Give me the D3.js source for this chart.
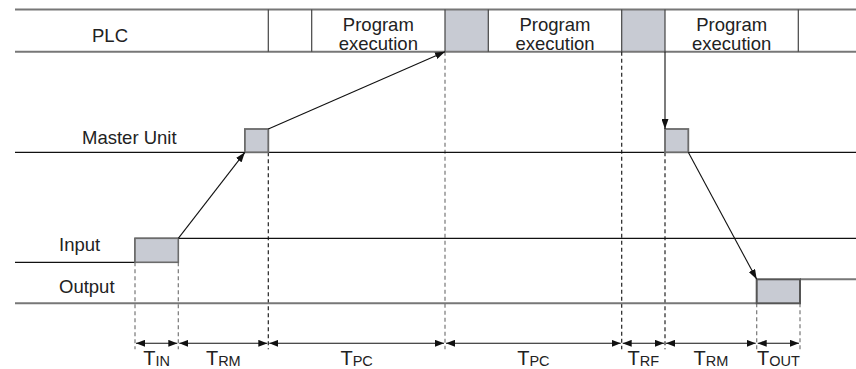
<!DOCTYPE html>
<html>
<head>
<meta charset="utf-8">
<script src="https://cdn.jsdelivr.net/npm/d3@7"></script>
<style>
  body { margin: 0; background: #fff; }
  svg { display: block; font-family: "Liberation Sans", Arial, Helvetica, sans-serif; }
</style>
</head>
<body>
<svg></svg>
<script>
var width = 856;
var height = 369;

// time axis in arbitrary units (1 unit ~ one tenth of the drawing)
var timeDomain = [0, 84.1];

// boundaries of the response-time segments
var segBounds = [12.0, 16.33, 25.33, 43.0, 60.67, 65.0, 74.17, 78.5];
var segLabels = ["IN", "RM", "PC", "PC", "RF", "RM", "OUT"];
var dashDark = [false, false, true, false, true, true, false, false];

// PLC cycle row
var plcLines = [25.33, 29.67, 43.0, 47.33, 60.67, 65.0, 78.33];
var plcRefresh = [[43.0, 47.33], [60.67, 65.0]];
var plcExec = [[29.67, 43.0], [47.33, 60.67], [65.0, 78.33]];

// pulses
var masterPulses = [[22.99, 25.33], [65.0, 67.33]];
var inputPulse = [12.0, 16.33];
var outputPulse = [74.17, 78.5];

var rowLabels = ["PLC", "Master Unit", "Input", "Output"];

var x = d3.scaleLinear().domain(timeDomain).range([15, width]);

// vertical layout
var Y = {
  plcTop: 9.5, plcBot: 51.7,
  mTop: 129, mLine: 152.3,
  inHi: 238.3, inLo: 262.3,
  outHi: 279.3, outLo: 303.3,
  dim: 343.3
};

var svg = d3.select("svg")
    .attr("width", width)
    .attr("height", height);

var defs = svg.append("defs");
function marker(id, len, w) {
  defs.append("marker")
      .attr("id", id)
      .attr("viewBox", "0 0 " + len + " " + w)
      .attr("refX", len).attr("refY", w / 2)
      .attr("markerWidth", len).attr("markerHeight", w)
      .attr("markerUnits", "userSpaceOnUse")
      .attr("orient", "auto-start-reverse")
    .append("path")
      .attr("d", "M0,0L" + len + "," + (w / 2) + "L0," + w + "Z")
      .attr("fill", "#111");
}
marker("arr", 10, 7);
marker("dim", 9, 7);

var boxFill = "#c8cbd3";
var boxStroke = "#6b6b6b";
var lineGray = "#777";

// ---- PLC row ----
var plc = svg.append("g");
plc.selectAll("rect.ref")
  .data(plcRefresh)
  .enter().append("rect")
    .attr("x", function(d) { return x(d[0]); })
    .attr("y", Y.plcTop)
    .attr("width", function(d) { return x(d[1]) - x(d[0]); })
    .attr("height", Y.plcBot - Y.plcTop)
    .attr("fill", boxFill);

plc.selectAll("line.h")
  .data([Y.plcTop, Y.plcBot])
  .enter().append("line")
    .attr("x1", x(0)).attr("x2", width)
    .attr("y1", function(d) { return d; }).attr("y2", function(d) { return d; })
    .attr("stroke", lineGray).attr("stroke-width", 2);

plc.selectAll("line.v")
  .data(plcLines)
  .enter().append("line")
    .attr("x1", function(d) { return x(d); }).attr("x2", function(d) { return x(d); })
    .attr("y1", Y.plcTop).attr("y2", Y.plcBot)
    .attr("stroke", "#444").attr("stroke-width", 1.2);

var exec = plc.selectAll("text.exec")
  .data(plcExec)
  .enter().append("text")
    .attr("text-anchor", "middle")
    .attr("font-size", 18.5)
    .attr("fill", "#222");
exec.append("tspan")
    .attr("x", function(d) { return (x(d[0]) + x(d[1])) / 2; })
    .attr("y", 30.5)
    .text("Program");
exec.append("tspan")
    .attr("x", function(d) { return (x(d[0]) + x(d[1])) / 2; })
    .attr("y", 49.5)
    .text("execution");

// ---- row labels ----
var labelPos = [[110, 41.7, "middle"], [82, 143.5, "start"], [59, 251, "start"], [59, 293, "start"]];
svg.selectAll("text.row")
  .data(rowLabels)
  .enter().append("text")
    .attr("x", function(d, i) { return labelPos[i][0]; })
    .attr("y", function(d, i) { return labelPos[i][1]; })
    .attr("text-anchor", function(d, i) { return labelPos[i][2]; })
    .attr("font-size", 18.5)
    .attr("fill", "#222")
    .text(function(d) { return d; });

// ---- dashed verticals ----
var dashTop = [Y.inLo, Y.inLo, Y.mLine, Y.plcBot, Y.plcBot, Y.mLine, Y.outLo, Y.outLo];
svg.selectAll("line.dash")
  .data(segBounds)
  .enter().append("line")
    .attr("x1", function(d) { return x(d); }).attr("x2", function(d) { return x(d); })
    .attr("y1", function(d, i) { return dashTop[i]; })
    .attr("y2", Y.dim + 6)
    .attr("stroke", function(d, i) { return dashDark[i] ? "#222" : "#777"; })
    .attr("stroke-width", 1.2)
    .attr("stroke-dasharray", "4,3");

// ---- Master Unit row ----
svg.append("line")
    .attr("x1", x(0)).attr("x2", width)
    .attr("y1", Y.mLine).attr("y2", Y.mLine)
    .attr("stroke", "#111").attr("stroke-width", 1.2);
svg.selectAll("rect.m")
  .data(masterPulses)
  .enter().append("rect")
    .attr("x", function(d) { return x(d[0]); })
    .attr("y", Y.mTop)
    .attr("width", function(d) { return x(d[1]) - x(d[0]); })
    .attr("height", Y.mLine - Y.mTop)
    .attr("fill", boxFill)
    .attr("stroke", boxStroke).attr("stroke-width", 1.8);

// ---- Input row ----
svg.append("path")
    .attr("d", d3.line()([[x(0), Y.inLo], [x(inputPulse[0]), Y.inLo], [x(inputPulse[0]), Y.inHi], [width, Y.inHi]]))
    .attr("fill", "none").attr("stroke", "#111").attr("stroke-width", 1.2);
svg.append("rect")
    .attr("x", x(inputPulse[0])).attr("y", Y.inHi)
    .attr("width", x(inputPulse[1]) - x(inputPulse[0]))
    .attr("height", Y.inLo - Y.inHi)
    .attr("fill", boxFill)
    .attr("stroke", boxStroke).attr("stroke-width", 1.6);

// ---- Output row ----
svg.append("path")
    .attr("d", d3.line()([[x(0), Y.outLo], [x(outputPulse[0]), Y.outLo]]))
    .attr("fill", "none").attr("stroke", lineGray).attr("stroke-width", 2);
svg.append("path")
    .attr("d", d3.line()([[x(outputPulse[1]), Y.outHi], [width, Y.outHi]]))
    .attr("fill", "none").attr("stroke", lineGray).attr("stroke-width", 2);
svg.append("rect")
    .attr("x", x(outputPulse[0])).attr("y", Y.outHi)
    .attr("width", x(outputPulse[1]) - x(outputPulse[0]))
    .attr("height", Y.outLo - Y.outHi)
    .attr("fill", boxFill)
    .attr("stroke", "#555").attr("stroke-width", 2);

// ---- signal flow arrows ----
var flows = [
  [[x(inputPulse[1]), Y.inHi], [x(masterPulses[0][0]), Y.mLine]],
  [[x(masterPulses[0][1]), Y.mTop], [x(plcRefresh[0][0]), Y.plcBot]],
  [[x(plcRefresh[1][1]), Y.plcBot], [x(masterPulses[1][0]), Y.mTop]],
  [[x(masterPulses[1][1]), Y.mLine], [x(outputPulse[0]), Y.outHi]]
];
svg.selectAll("line.flow")
  .data(flows)
  .enter().append("line")
    .attr("x1", function(d) { return d[0][0]; }).attr("y1", function(d) { return d[0][1]; })
    .attr("x2", function(d) { return d[1][0]; }).attr("y2", function(d) { return d[1][1]; })
    .attr("stroke", "#111").attr("stroke-width", 1.1)
    .attr("marker-end", "url(#arr)");

// ---- dimension arrows and labels ----
var segs = d3.pairs(segBounds);
svg.selectAll("line.dimarrow")
  .data(segs)
  .enter().append("line")
    .attr("x1", function(d) { return x(d[0]) + 1; })
    .attr("x2", function(d) { return x(d[1]) - 1; })
    .attr("y1", Y.dim).attr("y2", Y.dim)
    .attr("stroke", "#111").attr("stroke-width", 1.1)
    .attr("marker-start", "url(#dim)")
    .attr("marker-end", "url(#dim)");

var lab = svg.selectAll("text.seg")
  .data(segs)
  .enter().append("text")
    .attr("x", function(d) { return (x(d[0]) + x(d[1])) / 2; })
    .attr("y", 365)
    .attr("text-anchor", "middle")
    .attr("fill", "#222");
lab.append("tspan")
    .attr("font-size", 20)
    .text("T");
lab.append("tspan")
    .attr("font-size", 14.5)
    .attr("dy", 0.5)
    .text(function(d, i) { return segLabels[i]; });
</script>
</body>
</html>
